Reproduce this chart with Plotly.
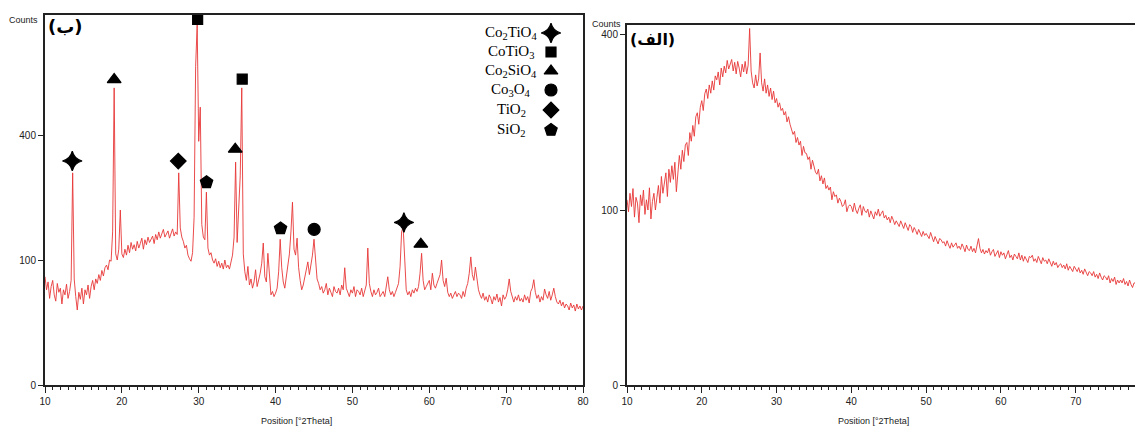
import numpy as np
import plotly.graph_objects as go

# ---------------- data ----------------
# scan positions (°2Theta), 0.2° step from 10 to 80
two_theta = np.linspace(10, 80, 351)

# panel (ب): crystallised sample, counts
counts_b = [
    75, 58, 68, 48, 62, 70, 52, 45, 66, 55,        # 10.0-11.8
    60, 42, 58, 52, 65, 48, 56, 70, 288, 72,       # 12.0-13.8
    50, 36, 55, 47, 60, 42, 58, 52, 64, 48,        # 14.0-15.8
    62, 70, 58, 72, 66, 78, 70, 84, 76, 88,        # 16.0-17.8
    92, 85, 100, 98, 150, 565, 110, 100, 118, 196, # 18.0-19.8
    110, 104, 118, 108, 125, 112, 130, 118, 126, 115,  # 20.0-21.8
    132, 120, 128, 138, 118, 135, 126, 140, 130, 136,  # 22.0-23.8
    142, 128, 145, 135, 150, 138, 146, 155, 140, 148,  # 24.0-25.8
    152, 138, 148, 156, 142, 150, 145, 288, 158, 140,  # 26.0-27.8
    132, 120, 125, 108, 102, 98, 112, 180, 650, 830,   # 28.0-29.8
    380, 494, 165, 140, 135, 238, 120, 108, 112, 100,  # 30.0-31.8
    95, 102, 90, 98, 88, 95, 86, 100, 88, 92,          # 32.0-33.8
    86, 95, 108, 140, 318, 130, 220, 280, 565, 110,    # 34.0-35.8
    82, 70, 90, 64, 72, 60, 68, 85, 62, 70,            # 36.0-37.8
    80, 95, 129, 75, 68, 111, 70, 52, 56, 50,          # 38.0-39.8
    54, 60, 82, 136, 88, 68, 60, 75, 100, 110,         # 40.0-41.8
    150, 214, 118, 108, 138, 88, 70, 58, 64, 74,       # 42.0-43.8
    84, 97, 78, 90, 108, 136, 96, 72, 66, 58,          # 44.0-45.8
    62, 54, 58, 66, 52, 60, 55, 50, 62, 56,            # 46.0-47.8
    54, 60, 52, 64, 58, 88, 60, 55, 50, 58,            # 48.0-49.8
    54, 62, 50, 58, 56, 52, 60, 50, 56, 64,            # 50.0-51.8
    120, 66, 56, 50, 58, 52, 55, 60, 50, 54,           # 52.0-53.8
    56, 50, 62, 75, 58, 52, 56, 50, 55, 60,            # 54.0-55.8
    66, 90, 150, 160, 88, 58, 52, 56, 50, 58,          # 56.0-57.8
    54, 60, 56, 62, 80, 111, 70, 58, 62, 66,           # 58.0-59.8
    70, 58, 80, 64, 60, 66, 72, 78, 100, 70,           # 60.0-61.8
    62, 73, 55, 50, 54, 48, 52, 56, 50, 54,            # 62.0-63.8
    52, 48, 56, 50, 60, 66, 80, 105, 78, 70,           # 64.0-65.8
    89, 72, 58, 52, 48, 54, 46, 50, 44, 52,            # 66.0-67.8
    48, 42, 50, 46, 53, 44, 49, 40, 52, 47,            # 68.0-69.8
    50, 58, 72, 56, 48, 44, 50, 46, 52, 45,            # 70.0-71.8
    48, 44, 52, 46, 50, 43, 56, 60, 71, 55,            # 72.0-73.8
    48, 52, 44, 50, 46, 59, 52, 48, 56, 46,            # 74.0-75.8
    52, 60, 50, 44, 42, 46, 40, 44, 38, 42,            # 76.0-77.8
    40, 36, 43, 38, 41, 35, 42, 37, 40, 36,            # 78.0-79.8
    40,                                                # 80.0
]

# panel (الف): amorphous sample, counts
counts_a = [
    112, 98, 120, 104, 126, 92, 115, 108, 86, 118,     # 10.0-11.8
    105, 124, 95, 112, 100, 127, 90, 110, 120, 100,    # 12.0-13.8
    115, 130, 108, 142, 120, 134, 147, 116, 152, 134,  # 14.0-15.8
    157, 138, 162, 122, 150, 172, 152, 180, 163, 188,  # 16.0-17.8
    192, 172, 208, 194, 220, 202, 235, 242, 222, 252,  # 18.0-19.8
    264, 246, 277, 286, 268, 294, 278, 302, 284, 312,  # 20.0-21.8
    304, 320, 294, 328, 310, 332, 318, 344, 326, 338,  # 22.0-23.8
    346, 322, 340, 316, 342, 328, 310, 336, 320, 342,  # 24.0-25.8
    316, 334, 415, 322, 298, 288, 314, 292, 306, 360,  # 26.0-27.8
    298, 282, 306, 278, 294, 272, 288, 266, 282, 260,  # 28.0-29.8
    268, 252, 260, 246, 250, 238, 244, 226, 235, 222,  # 30.0-31.8
    214, 205, 210, 192, 200, 188, 194, 172, 186, 176,  # 32.0-33.8
    175, 166, 170, 152, 165, 158, 148, 145, 152, 136,  # 34.0-35.8
    143, 132, 140, 126, 130, 124, 128, 112, 122, 116,  # 36.0-37.8
    118, 108, 114, 110, 104, 106, 112, 98, 104, 106,   # 38.0-39.8
    104, 98, 108, 100, 96, 102, 106, 94, 104, 99,      # 40.0-41.8
    97, 101, 92, 99, 95, 90, 98, 94, 101, 93,          # 42.0-43.8
    96, 99, 91, 94, 89, 92, 86, 93, 89, 84,            # 44.0-45.8
    88, 85, 82, 88, 84, 80, 86, 81, 78, 84,            # 46.0-47.8
    82, 76, 81, 78, 74, 79, 76, 72, 77, 73,            # 48.0-49.8
    75, 73, 70, 76, 71, 67, 72, 69, 65, 70,            # 50.0-51.8
    69, 66, 67, 63, 68, 64, 61, 66, 62, 64,            # 52.0-53.8
    66, 61, 63, 60, 65, 62, 58, 64, 60, 59,            # 54.0-55.8
    63, 58, 61, 57, 64, 70, 61, 57, 60, 56,            # 56.0-57.8
    59, 57, 61, 55, 58, 60, 54, 57, 59, 53,            # 58.0-59.8
    58, 55, 57, 52, 56, 59, 53, 55, 51, 56,            # 60.0-61.8
    54, 52, 57, 51, 55, 50, 54, 52, 49, 54,            # 62.0-63.8
    53, 55, 50, 52, 49, 54, 51, 48, 53, 50,            # 64.0-65.8
    51, 48, 52, 49, 46, 50, 47, 49, 45, 47,            # 66.0-67.8
    48, 45, 47, 44, 48, 43, 46, 44, 42, 46,            # 68.0-69.8
    44, 42, 45, 41, 43, 40, 44, 41, 39, 42,            # 70.0-71.8
    41, 39, 42, 38, 40, 37, 41, 38, 36, 39,            # 72.0-73.8
    38, 36, 39, 34, 37, 35, 38, 33, 36, 34,            # 74.0-75.8
    36, 34, 37, 33, 35, 32, 36, 33, 31, 34,            # 76.0-77.8
    34, 32, 35, 31, 33, 30, 34, 32, 30, 33,            # 78.0-79.8
    33,                                                # 80.0
]

# identified phases: label, peak positions (°2Theta), marker level (counts)
phase_labels = ["Co<sub>2</sub>TiO<sub>4</sub>", "CoTiO<sub>3</sub>", "Co<sub>2</sub>SiO<sub>4</sub>",
                "Co<sub>3</sub>O<sub>4</sub>", "TiO<sub>2</sub>", "SiO<sub>2</sub>"]
phase_positions = [[13.55, 56.7], [29.86, 35.66], [19.0, 34.75, 58.9], [45.02], [27.34], [31.02, 40.65]]
phase_levels = [[321, 169], [856, 599], [597, 356, 127], [155], [321], [263, 157]]

x_tick_values = [10, 20, 30, 40, 50, 60, 70, 80]
y_tick_values = [0, 100, 400]

# ---------------- styles / layout ----------------
# The page body has an 8px margin, so the figure is drawn 8px in from the top-left.
OFF = 8
VIEW_W, VIEW_H = 1143, 428
W, H = VIEW_W - OFF, VIEW_H - OFF
phase_symbols = ["star-diamond", "square", "triangle-up", "circle", "diamond", "pentagon"]
phase_sizes = [14, 10, 12, 12, 12, 13]
LINE_RED = "rgb(232,55,55)"
AX = "#222222"
TICKFONT = dict(family="Liberation Sans Narrow, Arial Narrow, Liberation Sans, Arial", size=10, color="#222")
TITLEFONT = dict(family="Liberation Sans Narrow, Arial Narrow, Liberation Sans, Arial", size=9, color="#222")


def px(x):
    """page pixel x -> paper fraction"""
    return (x - OFF) / W


def py(y):
    """page pixel y -> paper fraction"""
    return 1 - (y - OFF) / H


fig = go.Figure()

# pattern traces (sqrt intensity scale)
fig.add_trace(go.Scatter(x=two_theta, y=np.sqrt(counts_b), mode="lines",
                         line=dict(color=LINE_RED, width=0.9), xaxis="x", yaxis="y",
                         hoverinfo="skip"))
fig.add_trace(go.Scatter(x=two_theta, y=np.sqrt(counts_a), mode="lines",
                         line=dict(color=LINE_RED, width=0.9), xaxis="x2", yaxis="y2",
                         hoverinfo="skip"))

# phase markers on the peaks
for lab, pos, lev, sym, sz in zip(phase_labels, phase_positions, phase_levels, phase_symbols, phase_sizes):
    fig.add_trace(go.Scatter(x=pos, y=np.sqrt(lev), mode="markers", name=lab,
                             marker=dict(symbol=sym, size=sz, color="black", opacity=1,
                                         line=dict(width=1.2, color="black")),
                             xaxis="x", yaxis="y", cliponaxis=False))

# legend keys in a page-pixel overlay axis
legend_rows = [33, 52, 71, 90, 110, 130]
legend_key_x = 551
legend_text_x = 511
fig.add_trace(go.Scatter(x=[legend_key_x] * len(phase_labels), y=legend_rows, mode="markers",
                         marker=dict(symbol=phase_symbols, size=phase_sizes, color="black", opacity=1,
                                     line=dict(width=1.2, color="black")),
                         xaxis="x3", yaxis="y3", hoverinfo="skip", cliponaxis=False))

annotations = []
for lab, ry in zip(phase_labels, legend_rows):
    annotations.append(dict(x=legend_text_x, y=ry, xref="x3", yref="y3", text=lab, showarrow=False,
                            xanchor="center", yanchor="middle",
                            font=dict(family="Liberation Serif, Times New Roman, serif", size=15, color="black")))

# panel labels
annotations.append(dict(x=46, y=26, xref="x3", yref="y3", text="<b>(ب)</b>", showarrow=False,
                        xanchor="left", yanchor="middle",
                        font=dict(family="DejaVu Sans", size=18, color="black")))
annotations.append(dict(x=628, y=39, xref="x3", yref="y3", text="<b>(الف)</b>", showarrow=False,
                        xanchor="left", yanchor="middle",
                        font=dict(family="DejaVu Sans", size=16, color="black")))
# "Counts" labels
annotations.append(dict(x=40, y=20, xref="x3", yref="y3", text="Counts", showarrow=False,
                        xanchor="right", yanchor="middle", font=TITLEFONT))
annotations.append(dict(x=623, y=24, xref="x3", yref="y3", text="Counts", showarrow=False,
                        xanchor="right", yanchor="middle", font=TITLEFONT))
# axis titles
annotations.append(dict(x=296, y=421, xref="x3", yref="y3", text="Position [°2Theta]", showarrow=False,
                        xanchor="center", yanchor="middle", font=TITLEFONT))
annotations.append(dict(x=873, y=421, xref="x3", yref="y3", text="Position [°2Theta]", showarrow=False,
                        xanchor="center", yanchor="middle", font=TITLEFONT))

common_x = dict(showline=True, linecolor=AX, linewidth=2, ticks="outside", ticklen=6, tickwidth=1,
                tickcolor=AX, tickvals=x_tick_values, ticktext=[str(v) for v in x_tick_values],
                showgrid=False, zeroline=False, tickfont=TICKFONT, fixedrange=True, automargin=False,
                minor=dict(dtick=1, ticks="outside", ticklen=3, tickwidth=1, tickcolor=AX, showgrid=False))
common_y = dict(showline=True, linecolor=AX, linewidth=2, ticks="outside", ticklen=5, tickwidth=1,
                tickcolor=AX, tickvals=np.sqrt(y_tick_values), ticktext=[str(v) for v in y_tick_values],
                showgrid=False, zeroline=False, tickfont=TICKFONT, fixedrange=True, automargin=False)

fig.update_layout(
    width=W, height=H,
    margin=dict(l=0, r=0, t=0, b=0, autoexpand=False),
    paper_bgcolor="white", plot_bgcolor="rgba(0,0,0,0)",
    showlegend=False,
    xaxis=dict(common_x, domain=[px(45), px(583)], range=[10, 80], anchor="y", mirror=True),
    yaxis=dict(common_y, domain=[py(385), py(15)], range=[0, 29.6], anchor="x", mirror=True),
    xaxis2=dict(common_x, domain=[px(627), 1.0], range=[10, 79.0], anchor="y2", mirror=True),
    yaxis2=dict(common_y, domain=[py(385), py(25)], range=[0, 20.571], anchor="x2", mirror=False),
    xaxis3=dict(domain=[0, 1], range=[OFF, VIEW_W], visible=False, anchor="y3", fixedrange=True,
                automargin=False),
    yaxis3=dict(domain=[0, 1], range=[VIEW_H, OFF], visible=False, anchor="x3", fixedrange=True,
                automargin=False),
    annotations=annotations,
)

fig.write_html("out.html")
